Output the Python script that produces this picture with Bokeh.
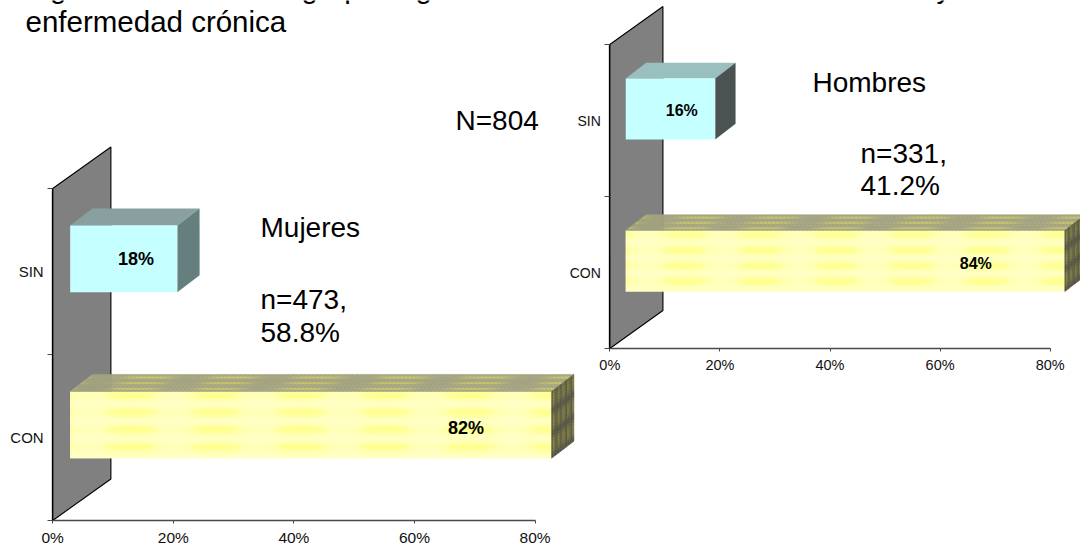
import numpy as np
from bokeh.embed import file_html
from bokeh.resources import INLINE
from bokeh.models import FixedTicker, Label, LinearAxis, Range1d
from bokeh.plotting import figure
from bokeh.core.properties import value

# Chart data
categories = ["CON", "SIN"]
mujeres_pct = [82, 18]
hombres_pct = [84, 16]
x_ticks = [0, 20, 40, 60, 80]
x_tick_labels = ["0%", "20%", "40%", "60%", "80%"]

FONT = "Liberation Sans"
WIDTH, HEIGHT = 1080, 550

# Oblique projection shared by both panels, in axis units
WALL_DX, WALL_DY = 9.65, 0.25
BAR_START = 2.9
BAR_DX, BAR_DY = 3.7, 0.103
BAR_LOW, BAR_HEIGHT = 0.375, 0.402

CYAN = "#C6FFFF"

# Axis origin on the page and pixels per unit for each panel
L_X0, L_Y0, L_XS, L_YS = 52.2, 520.0, 6.03, 166.0
R_X0, R_Y0, R_XS, R_YS = 609.3, 348.0, 5.505, 152.0


def bumps(t, width, power=2):
    """Soft periodic bump in [0, 1], peaking on whole values of t."""
    d = t - np.round(t)
    return np.exp(-np.abs(d / width) ** power)


def mix(a, b, t):
    return tuple(a[i] + (b[i] - a[i]) * t for i in range(3))


def hexcol(c):
    return "#%02x%02x%02x" % tuple(int(round(max(0, min(255, k)))) for k in c)


p = figure(width=WIDTH, height=HEIGHT, output_backend="svg", toolbar_location=None,
           x_range=Range1d(-L_X0 / L_XS, (WIDTH - L_X0) / L_XS),
           y_range=Range1d(-(HEIGHT - L_Y0) / L_YS, L_Y0 / L_YS),
           min_border=0, outline_line_color=None, background_fill_color="white",
           border_fill_color="white")
p.extra_x_ranges["men"] = Range1d(-R_X0 / R_XS, (WIDTH - R_X0) / R_XS)
p.extra_y_ranges["men"] = Range1d(-(HEIGHT - R_Y0) / R_YS, R_Y0 / R_YS)
p.grid.visible = False


def style_axes(xa, ya, x_size, y_size):
    xa.fixed_location = 0
    xa.bounds = (0, 80)
    xa.ticker = FixedTicker(ticks=x_ticks, minor_ticks=[])
    xa.major_label_overrides = dict(zip(x_ticks, x_tick_labels))
    xa.major_label_text_font = FONT
    xa.major_label_text_font_size = x_size
    xa.major_label_text_color = "#111111"
    xa.major_label_standoff = 5
    xa.axis_line_color = "#4a4a4a"
    xa.axis_line_width = 1.3
    xa.major_tick_line_color = "#4a4a4a"
    xa.major_tick_in = 0
    xa.major_tick_out = 3

    ya.fixed_location = 0
    ya.bounds = (0, 2)
    ya.ticker = FixedTicker(ticks=[0.5, 1.5], minor_ticks=[0, 1, 2])
    ya.major_label_overrides = {0.5: categories[0], 1.5: categories[1]}
    ya.major_label_text_font = FONT
    ya.major_label_text_font_size = y_size
    ya.major_label_text_color = "#111111"
    ya.major_label_standoff = 4
    ya.major_tick_line_color = None
    ya.major_tick_in = 0
    ya.major_tick_out = 0
    ya.minor_tick_line_color = "#4a4a4a"
    ya.minor_tick_in = 0
    ya.minor_tick_out = 5
    ya.axis_line_color = "#000000"
    ya.axis_line_width = 1.3


def draw_wall(kw):
    p.patch([0, WALL_DX, WALL_DX, 0], [0, WALL_DY, 2 + WALL_DY, 2],
            fill_color="#808080", line_color="#000000", line_width=1.1, **kw)


def cyan_bar(end, level, top_col, side_col, kw):
    y0 = level + BAR_LOW
    y1 = y0 + BAR_HEIGHT
    p.patch([BAR_START, end, end + BAR_DX, BAR_START + BAR_DX],
            [y1, y1, y1 + BAR_DY, y1 + BAR_DY], fill_color=top_col, line_color=None, **kw)
    p.patch([end, end + BAR_DX, end + BAR_DX, end],
            [y0, y0 + BAR_DY, y1 + BAR_DY, y1], fill_color=side_col, line_color=None, **kw)
    p.quad(left=BAR_START, right=end, bottom=y0, top=y1, fill_color=CYAN, line_color=None, **kw)


def yellow_bar(end, level, x_scale, period, phase, kw):
    y0 = level + BAR_LOW
    y1 = y0 + BAR_HEIGHT
    span_px = (end - BAR_START) * x_scale

    # Front face: pale yellow with a woven pattern of stronger stripes
    nx, ny = int(span_px), 67
    uu = np.arange(nx) + 0.5
    vv = (np.arange(ny) + 0.5) / ny
    across = bumps(uu / period - phase, 0.3, 4)
    along = bumps((vv - 0.07) / 0.255, 0.28)
    strength = along[:, None] * (0.22 + 0.78 * across[None, :])
    img = np.zeros((ny, nx), dtype=np.uint32)
    view = img.view(dtype=np.uint8).reshape((ny, nx, 4))
    view[..., 0] = 255
    view[..., 1] = 255
    view[..., 2] = (198 - 56 * strength).astype(np.uint8)
    view[..., 3] = 255
    p.quad(left=BAR_START, right=end, bottom=y0, top=y1, fill_color="#FFFFC6", line_color=None, **kw)
    p.image_rgba(image=[img[::-1]], x=BAR_START, y=y0, dw=end - BAR_START, dh=BAR_HEIGHT, **kw)

    # Top face
    xs, ys, cols = [], [], []
    n_u = int(span_px / 4)
    n_w = 9
    du = (end - BAR_START) / n_u
    for i in range(n_u):
        u0 = BAR_START + i * du
        strength_u = bumps((u0 + du / 2 - BAR_START) * x_scale / period - phase, 0.3, 4)
        for j in range(n_w):
            w0, w1 = j / n_w, (j + 1) / n_w
            strength = strength_u * bumps(((j + 0.5) / n_w - 0.17) / 0.33, 0.2)
            c = mix((163, 163, 128), (198, 194, 108), strength)
            xs.append([u0 + w0 * BAR_DX, u0 + du + w0 * BAR_DX, u0 + du + w1 * BAR_DX, u0 + w1 * BAR_DX])
            ys.append([y1 + w0 * BAR_DY, y1 + w0 * BAR_DY, y1 + w1 * BAR_DY, y1 + w1 * BAR_DY])
            cols.append(hexcol(c))
    p.patches(xs, ys, fill_color=cols, line_color=cols, line_width=0.5, **kw)

    # Right-hand face
    xs, ys, cols = [], [], []
    n_w, n_v = 14, 24
    for i in range(n_w):
        w0, w1 = i / n_w, (i + 1) / n_w
        stripes = bumps((i + 0.5) / n_w / 0.22 - 0.5, 0.27)
        for j in range(n_v):
            v0, v1 = j / n_v, (j + 1) / n_v
            bands = bumps(((j + 0.5) / n_v - 0.03) / 0.34, 0.2)
            c = mix((88, 88, 66), (128, 128, 68), stripes)
            c = mix(c, (84, 84, 66), bands)
            xx = end + np.array([w0, w1, w1, w0]) * BAR_DX
            yb0 = y0 + v0 * BAR_HEIGHT
            yb1 = y0 + v1 * BAR_HEIGHT
            xs.append(list(xx))
            ys.append([yb0 + w0 * BAR_DY, yb0 + w1 * BAR_DY, yb1 + w1 * BAR_DY, yb1 + w0 * BAR_DY])
            cols.append(hexcol(c))
    p.patches(xs, ys, fill_color=cols, line_color=cols, line_width=0.5, **kw)


def value_label(x, y, pct, size, kw):
    p.text(x=[x], y=[y], text=[f"{pct}%"], text_font=value(FONT), text_font_size=size,
           text_font_style="bold", text_color="#000000", text_align="center",
           text_baseline="middle", **kw)


def page_text(px, py, text, size="28px"):
    # Free text, placed from page coordinates
    p.add_layout(Label(x=(px - L_X0) / L_XS, y=(L_Y0 - py) / L_YS, text=text, text_font=FONT,
                       text_font_size=size, text_color="#000000", text_baseline="alphabetic"))


# Women's panel, on the default ranges
style_axes(p.xaxis[0], p.yaxis[0], "15.5px", "15px")
draw_wall({})
end_l = [3.2 + 0.97 * v for v in mujeres_pct]
yellow_bar(end_l[0], 0, L_XS, 84.6, 0.72, {})
cyan_bar(end_l[1], 1, "#89A0A0", "#647F7D", {})
value_label((465.6 - L_X0) / L_XS, (L_Y0 - 427.3) / L_YS, mujeres_pct[0], "18px", {})
value_label((135.6 - L_X0) / L_XS, (L_Y0 - 258.3) / L_YS, mujeres_pct[1], "18px", {})

# Men's panel, on its own pair of ranges
men = {"x_range_name": "men", "y_range_name": "men"}
xa_m = LinearAxis(**men)
ya_m = LinearAxis(**men)
p.add_layout(xa_m, "below")
p.add_layout(ya_m, "left")
style_axes(xa_m, ya_m, "14.5px", "14px")
draw_wall(men)
end_r = [4.2 + 0.934 * v for v in hombres_pct]
yellow_bar(end_r[0], 0, R_XS, 75.6, 0.78, men)
cyan_bar(end_r[1], 1, "#99BFBE", "#4B5352", men)
value_label((975.3 - R_X0) / R_XS, (R_Y0 - 263.3) / R_YS, hombres_pct[0], "16px", men)
value_label((681.3 - R_X0) / R_XS, (R_Y0 - 110.3) / R_YS, hombres_pct[1], "16px", men)

# Heading and panel notes
for px, py, txt, size in [
    (25, -13, "Figura. Distribución", "29.5px"),
    (301, -13, "grupo", "29.5px"),
    (415, -13, "género", "29.5px"),
    (936, -13, "y sin", "29.5px"),
    (25, 21, "enfermedad crónica", "29.5px"),
    (455, 120, "N=804", "28px"),
    (260, 227, "Mujeres", "28px"),
    (260, 299, "n=473,", "28px"),
    (260, 332, "58.8%", "28px"),
    (812, 82, "Hombres", "28px"),
    (860, 153, "n=331,", "28px"),
    (860, 185, "41.2%", "28px"),
]:
    page_text(px, py, txt, size)

open("out.html", "w").write(file_html(p, INLINE))
